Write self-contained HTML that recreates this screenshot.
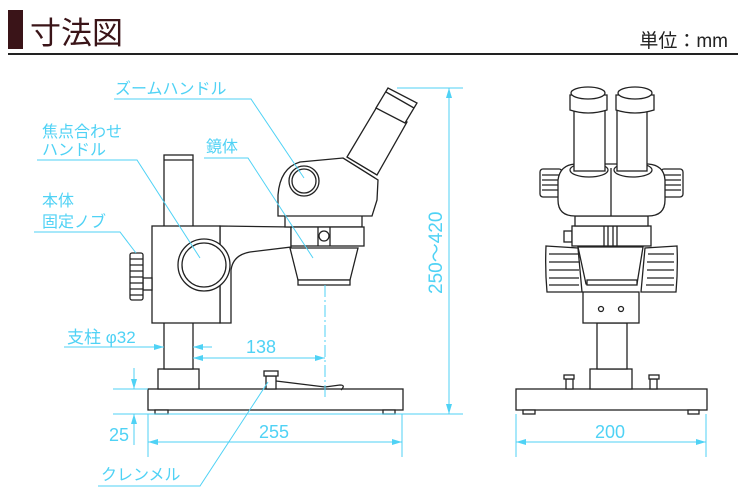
<!DOCTYPE html>
<html><head><meta charset="utf-8"><style>
body{margin:0;background:#fff;}
svg{display:block;}
.k{fill:#fff;stroke:#222;stroke-width:1.3;}
.kn{fill:none;stroke:#222;stroke-width:1.3;}
.c{fill:none;stroke:#4fd2f5;stroke-width:1;}
.ct{fill:#4fd2f5;font-family:"Liberation Sans","Noto Sans CJK JP",sans-serif;}
.ah{fill:#4fd2f5;}
</style></head><body>
<svg width="738" height="501" viewBox="0 0 738 501" xmlns="http://www.w3.org/2000/svg">
<rect x="8" y="10" width="15" height="39" fill="#3a1418"/>
<text x="30" y="44" font-size="31" fill="#3a1418" font-family="'Liberation Sans','Noto Sans CJK JP',sans-serif">寸法図</text>
<text x="728" y="47" font-size="19" fill="#222" text-anchor="end" font-family="'Liberation Sans','Noto Sans CJK JP',sans-serif">単位：mm</text>
<rect x="8" y="53" width="730" height="2" fill="#222"/>

<!-- LEFT VIEW -->
<rect class="k" x="148" y="389" width="255" height="21"/>
<rect class="k" x="155" y="410" width="13" height="4"/>
<rect class="k" x="383" y="410" width="12" height="4"/>
<rect class="k" x="158" y="369" width="41" height="20"/>
<rect class="k" x="164" y="155" width="29" height="214"/>
<line class="kn" x1="164" y1="160" x2="193" y2="160"/>
<!-- arm -->
<path class="k" d="M220 226 L291 227 L291 247 L250 252 Q233 255 231 270 L231 323 L220 323 Z"/>
<rect class="k" x="152" y="226" width="68" height="97"/>
<circle class="k" cx="204" cy="265" r="26"/>
<circle class="kn" cx="204" cy="265" r="22"/>
<!-- left knob -->
<rect class="k" x="143" y="278" width="9" height="12"/>
<rect class="k" x="130" y="253" width="13" height="47" rx="2"/>
<path class="kn" d="M130 259h13M130 265h13M130 271h13M130 277h13M130 283h13M130 289h13M130 295h13"/>
<!-- head -->
<rect class="k" x="285" y="215" width="77" height="12"/>
<rect class="k" x="291" y="227" width="73" height="19"/>
<line class="kn" x1="318" y1="227" x2="318" y2="246"/><line class="kn" x1="330" y1="227" x2="330" y2="246"/>
<circle class="k" cx="324" cy="236" r="5"/>
<path class="k" d="M290 248 L358 248 L350 280 L298 280 Z"/>
<rect class="k" x="298" y="280" width="52" height="5"/>
<path class="k" d="M347 157 L378 105 L407 122 L377 175 Z"/>
<path class="k" d="M376 108 L388 88 L417 103 L405 123 Z"/>
<path class="kn" d="M386 92 L414 108"/>
<path class="k" d="M278 216 L278 195 Q280 168 300 162 L343 158 L378 180 L377 200 L372 216 Z"/>
<path class="kn" d="M343 158 L375 178 M347 157 L377 175"/>
<circle class="k" cx="304" cy="181" r="15"/>
<circle class="kn" cx="304" cy="181" r="12"/>
<!-- clamp -->
<rect class="k" x="266" y="376" width="10" height="13"/>
<rect class="k" x="264" y="371" width="14" height="5"/>
<path class="kn" d="M276 381 L325 387 L340 385 Q346 385 341 390"/>

<!-- RIGHT VIEW -->
<rect class="k" x="516" y="389" width="191" height="21"/>
<rect class="k" x="523" y="410" width="12" height="4"/>
<rect class="k" x="688" y="410" width="11" height="4"/>
<rect class="k" x="590" y="369" width="42" height="20"/>
<rect class="k" x="597" y="323" width="30" height="46"/>
<rect class="k" x="583" y="292" width="56" height="31"/>
<circle class="kn" cx="601" cy="309" r="2.5"/><circle class="kn" cx="621" cy="309" r="2.5"/>
<rect class="k" x="566" y="379" width="7" height="10"/><rect class="k" x="564" y="375" width="10" height="4"/>
<rect class="k" x="650" y="379" width="7" height="10"/><rect class="k" x="649" y="375" width="10" height="4"/>
<path class="k" d="M546 246 L578 248 L582 292 L547 292 Q545 270 546 246 Z"/>
<path class="kn" d="M549 254h29M549 262h30M549 270h30M549 278h30M549 285h30"/>
<path class="k" d="M677 246 L645 248 L641 292 L676 292 Q678 270 677 246 Z"/>
<path class="kn" d="M648 254h26M647 262h27M647 270h27M647 278h27M646 285h28"/>
<path class="k" d="M578 247 L643 247 L637 284 L586 284 Z"/>
<rect class="k" x="587" y="280" width="50" height="5"/>
<rect class="k" x="564" y="231" width="8" height="11"/>
<rect class="k" x="572" y="226" width="79" height="20"/>
<path class="kn" d="M604 226v20M608 226v20M613 226v20M617 226v20"/>
<rect class="k" x="575" y="216" width="73" height="10"/>
<rect class="k" x="540" y="169" width="22" height="28" rx="3"/>
<path class="kn" d="M542 175h18M542 180h18M542 185h18M542 190h18"/>
<rect class="k" x="661" y="169" width="22" height="28" rx="3"/>
<path class="kn" d="M663 175h18M663 180h18M663 185h18M663 190h18"/>
<path class="k" d="M558 180 Q560 165 575 164 L648 164 Q664 165 665 180 L665 200 Q665 216 648 216 L575 216 Q558 216 558 200 Z"/>
<line class="kn" x1="611" y1="168" x2="611" y2="216"/>
<ellipse class="kn" cx="589" cy="170" rx="19" ry="7"/>
<ellipse class="kn" cx="633" cy="170" rx="19" ry="7"/>
<rect class="k" x="574" y="105" width="31" height="66"/>
<rect class="k" x="617" y="105" width="30" height="66"/>
<path class="k" d="M570 95 L607 95 L607 110 Q588 116 570 110 Z"/>
<path class="k" d="M616 95 L654 95 L654 110 Q635 116 616 110 Z"/>
<ellipse class="k" cx="588" cy="93" rx="17" ry="6"/>
<ellipse class="k" cx="635" cy="93" rx="17" ry="6"/>

<!-- DIMENSIONS -->
<g>
<path class="c" d="M397 88H463M113 414H463M449 88V414"/>
<path class="ah" d="M449 88l-3 10h6zM449 414l-3-10h6z"/>
<text class="ct" font-size="19" transform="translate(442 294) rotate(-90)">250〜420</text>
<path class="c" d="M113 389H148M134 368V389M134 414V445"/>
<path class="ah" d="M134 389l-3-10h6zM134 414l-3 10h6z"/>
<text class="ct" x="109" y="441" font-size="18">25</text>
<path class="c" d="M148 414V457M402 414V457M148 442H402M516 414V457M706 414V457M516 442H706"/>
<path class="ah" d="M148 442l10-3v6zM402 442l-10-3v6zM516 442l10-3v6zM706 442l-10-3v6z"/>
<text class="ct" x="259" y="438" font-size="18">255</text>
<text class="ct" x="595" y="438" font-size="18">200</text>
<path class="c" d="M193 358H325M64 347H164M193 347H212"/>
<path class="c" d="M325 285V400" stroke-dasharray="12 3 2 3"/>
<path class="ah" d="M193 358l10-3v6zM325 358l-10-3v6zM164 347l-10-3v6zM193 347l10-3v6z"/>
<text class="ct" x="246" y="353" font-size="18">138</text>
<text class="ct" x="67" y="343" font-size="17">支柱 φ32</text>
<path class="c" d="M114 99H251L304 178M37 160H137L200 258M204 158H248L313 258M34 232H120L136 253M98 486H200L268 382"/>
<g font-size="16">
<text class="ct" x="115" y="94">ズームハンドル</text>
<text class="ct" x="42" y="137">焦点合わせ</text>
<text class="ct" x="42" y="155">ハンドル</text>
<text class="ct" x="206" y="152">鏡体</text>
<text class="ct" x="42" y="206">本体</text>
<text class="ct" x="42" y="227">固定ノブ</text>
<text class="ct" x="101" y="480">クレンメル</text>
</g>
</g>
</svg>
</body></html>
